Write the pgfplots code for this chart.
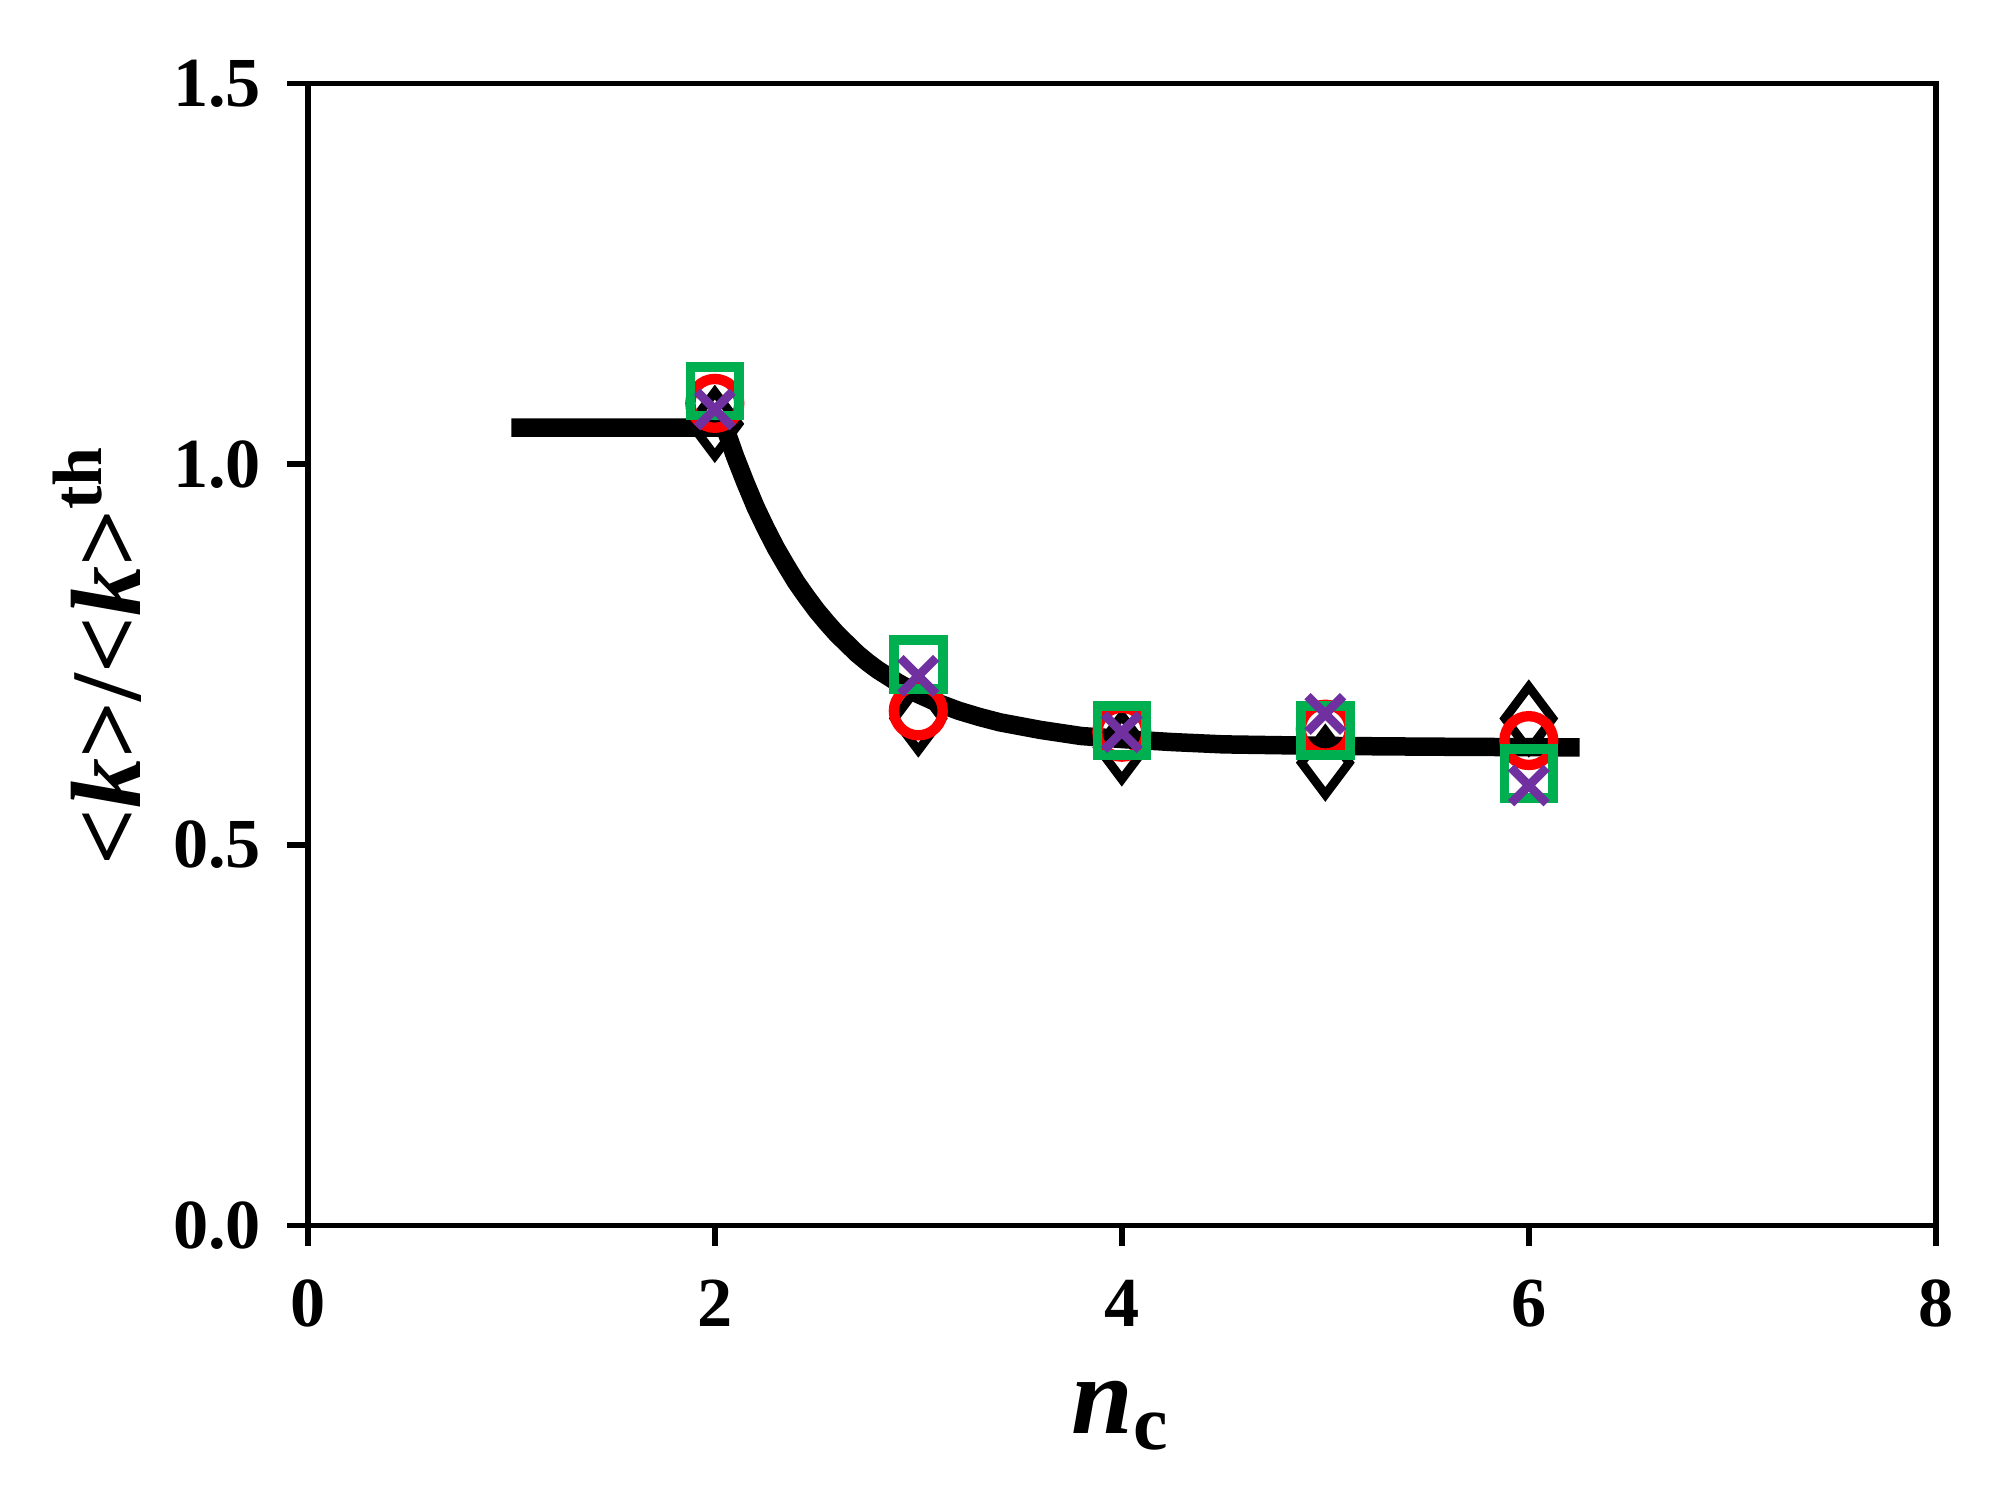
\documentclass[border=0pt]{standalone}
\usepackage{pgfplots}
\pgfplotsset{compat=1.18}
\usepackage{fontspec}
\setmainfont{Liberation Serif}
\definecolor{mgreen}{RGB}{0,176,80}
\definecolor{mred}{RGB}{255,0,0}
\definecolor{mpurple}{RGB}{112,48,160}
\begin{document}
\begin{tikzpicture}
\useasboundingbox (-41.6pt,-38.5pt) rectangle (230.7pt,165.6pt);
\begin{axis}[
  at={(0,0)}, anchor=origin,
  scale only axis, width=220pt, height=154.3pt,
  xmin=0, xmax=8, ymin=0, ymax=1.5,
  xtick={0,2,4,6,8}, ytick={0,0.5,1.0,1.5},
  tick align=outside, xtick pos=left, ytick pos=left,
  major tick length=2.8pt,
  axis line style={line width=0.75pt},
  every tick/.style={line width=0.75pt, black},
  /pgf/number format/assume math mode=true,
  yticklabel style={/pgf/number format/fixed, /pgf/number format/fixed zerofill, /pgf/number format/precision=1, xshift=0pt},
  tick label style={font=\fontsize{9.5}{11}\selectfont\bfseries},
  xticklabel style={yshift=-1pt},
  xlabel={\fontsize{15}{18}\selectfont\bfseries\itshape n\textsubscript{\upshape c}},
  ylabel={\fontsize{13.5}{16}\selectfont\bfseries <\textit{k}>/<\textit{k}>\textsuperscript{th}},
  xlabel style={yshift=-0.5pt},
  ylabel style={at={(axis description cs:-0.1295,0.5)}, anchor=center},
  clip=false,
]
\addplot[only marks, mark=diamond, mark size=4.3pt, mark options={black, line width=1.2pt}] coordinates {
  (2,1.053) (3,0.666) (4,0.628) (5,0.608) (6,0.666)};
\addplot[only marks, mark=o, mark size=3.3pt, mark options={mred, line width=1.4pt}] coordinates {
  (2,1.080) (3,0.676) (4,0.648) (5,0.652) (6,0.637)};
\addplot[only marks, mark=square, mark size=3.3pt, mark options={mgreen, line width=1.3pt}] coordinates {
  (2,1.096) (3,0.737) (4,0.650) (5,0.650) (6,0.594)};
\addplot[only marks, mark=x, mark size=3.4pt, mark options={mpurple, line width=1.2pt}] coordinates {
  (2,1.072) (3,0.722) (4,0.648) (5,0.672) (6,0.578)};
\addplot[black, line width=2.5pt, line join=round] coordinates {
  (1.0,1.048) (2.05,1.048) (2.075,1.029) (2.1,1.010) (2.15,0.976) (2.2,0.944) (2.25,0.916) (2.3,0.890)
  (2.35,0.867) (2.4,0.845) (2.45,0.826) (2.5,0.808) (2.55,0.792) (2.6,0.777) (2.65,0.764) (2.7,0.751)
  (2.75,0.740) (2.8,0.730) (2.9,0.713) (3.0,0.698) (3.1,0.686) (3.2,0.676) (3.3,0.668)
  (3.4,0.661) (3.5,0.656) (3.6,0.651) (3.7,0.647) (3.8,0.643) (3.9,0.641) (4.0,0.639) (4.25,0.635) (4.5,0.632) (5.0,0.630)
  (5.5,0.629) (6.25,0.628)};
\end{axis}
\end{tikzpicture}
\end{document}
